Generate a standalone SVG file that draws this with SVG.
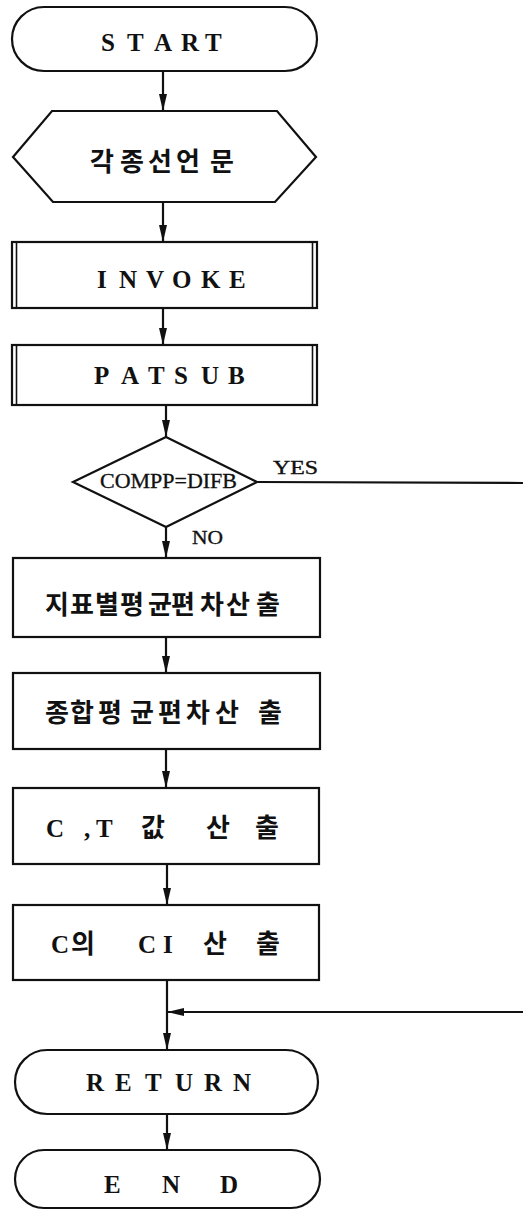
<svg xmlns="http://www.w3.org/2000/svg" width="523" height="1211" viewBox="0 0 523 1211">
  <style>
    .shape { fill: #fff; stroke: #111; stroke-width: 2.2; }
    .bar { fill: none; stroke: #111; stroke-width: 1.6; }
    .wire { fill: none; stroke: #111; stroke-width: 2.2; }
    .lat { font-family: "Liberation Serif", serif; font-weight: bold; font-size: 25px; fill: #111; }
    .kr { font-family: "Noto Sans CJK KR", "Noto Sans", sans-serif; font-weight: bold; font-size: 26px; fill: #111; }
    .serif { font-family: "Liberation Serif", serif; fill: #111; stroke: #111; stroke-width: 0.35; }
  </style>
  <defs>
    <marker id="arrow" markerUnits="userSpaceOnUse" markerWidth="17" markerHeight="8" refX="17" refY="4" orient="auto">
      <path d="M0,0 L17,4 L0,8 Z" fill="#111"/>
    </marker>
  </defs>

  <!-- connectors -->
  <g id="connectors">
    <line class="wire" x1="163" y1="71" x2="163" y2="111" marker-end="url(#arrow)"/>
    <line class="wire" x1="163" y1="202" x2="163" y2="242" marker-end="url(#arrow)"/>
    <line class="wire" x1="163" y1="308" x2="163" y2="345" marker-end="url(#arrow)"/>
    <line class="wire" x1="166" y1="405" x2="166" y2="437" marker-end="url(#arrow)"/>
    <line class="wire" x1="166" y1="527" x2="166" y2="558" marker-end="url(#arrow)"/>
    <line class="wire" x1="166" y1="637" x2="166" y2="673" marker-end="url(#arrow)"/>
    <line class="wire" x1="166" y1="749" x2="166" y2="788" marker-end="url(#arrow)"/>
    <line class="wire" x1="167" y1="864" x2="167" y2="905" marker-end="url(#arrow)"/>
    <line class="wire" x1="167" y1="980" x2="167" y2="1050" marker-end="url(#arrow)"/>
    <line class="wire" x1="167" y1="1114" x2="167" y2="1150" marker-end="url(#arrow)"/>
    <!-- YES branch leaves to the right and rejoins above RETURN -->
    <line class="wire" x1="257" y1="482" x2="523" y2="483"/>
    <line class="wire" x1="523" y1="1012" x2="167" y2="1012" marker-end="url(#arrow)"/>
    <text class="serif" x="273" y="474" font-size="18" textLength="45" lengthAdjust="spacingAndGlyphs">YES</text>
    <text class="serif" x="192" y="544" font-size="19" textLength="31" lengthAdjust="spacingAndGlyphs">NO</text>
  </g>

  <g id="start">
    <rect class="shape" x="12" y="7" width="305" height="64" rx="32" ry="32"/>
    <text class="lat" x="101 127 154 181 205" y="51">START</text>
  </g>

  <g id="declarations">
    <polygon class="shape" points="13,157 52,111 277,111 316,157 275,202 53,202"/>
    <text class="kr" x="90 120 148 176 210" y="171">각종선언문</text>
  </g>

  <g id="invoke">
    <rect class="shape" x="12" y="242" width="305" height="66"/>
    <line class="bar" x1="16.5" y1="242" x2="16.5" y2="308"/>
    <line class="bar" x1="312.5" y1="242" x2="312.5" y2="308"/>
    <text class="lat" x="97 119 146 172 201 229" y="288">INVOKE</text>
  </g>

  <g id="patsub">
    <rect class="shape" x="12" y="345" width="305" height="60"/>
    <line class="bar" x1="16.5" y1="345" x2="16.5" y2="405"/>
    <line class="bar" x1="312.5" y1="345" x2="312.5" y2="405"/>
    <text class="lat" x="94 121 148 174 201 228" y="384">PATSUB</text>
  </g>

  <g id="decision">
    <polygon class="shape" points="166,437 257,482 166,527 73,482"/>
    <text class="serif" x="100" y="488" font-size="22" textLength="137" lengthAdjust="spacingAndGlyphs">COMPP=DIFB</text>
  </g>

  <g id="step1">
    <rect class="shape" x="13" y="558" width="307" height="79"/>
    <text class="kr" font-size="25" x="45 70 95 120 148 171 200 226 256" y="614">지표별평균편차산출</text>
  </g>

  <g id="step2">
    <rect class="shape" x="13" y="673" width="307" height="76"/>
    <text class="kr" x="45 70 98 130 158 186 215 258" y="722">종합평균편차산출</text>
  </g>

  <g id="step3">
    <rect class="shape" x="13" y="788" width="306" height="76"/>
    <text y="837"><tspan class="lat" x="46">C</tspan><tspan class="lat" x="84">,</tspan><tspan class="lat" x="96">T</tspan><tspan class="kr" x="141">값</tspan><tspan class="kr" x="206">산</tspan><tspan class="kr" x="255">출</tspan></text>
  </g>

  <g id="step4">
    <rect class="shape" x="13" y="905" width="306" height="75"/>
    <text y="953"><tspan class="lat" x="51">C</tspan><tspan class="kr" x="71">의</tspan><tspan class="lat" x="138">C</tspan><tspan class="lat" x="163">I</tspan><tspan class="kr" x="203">산</tspan><tspan class="kr" x="256">출</tspan></text>
  </g>

  <g id="return">
    <rect class="shape" x="15" y="1050" width="303" height="64" rx="32" ry="32"/>
    <text class="lat" x="86 115 145 175 204 233" y="1091">RETURN</text>
  </g>

  <g id="end">
    <rect class="shape" x="15" y="1150" width="305" height="58" rx="29" ry="29"/>
    <text class="lat" x="104 162 220" y="1193">END</text>
  </g>
</svg>
